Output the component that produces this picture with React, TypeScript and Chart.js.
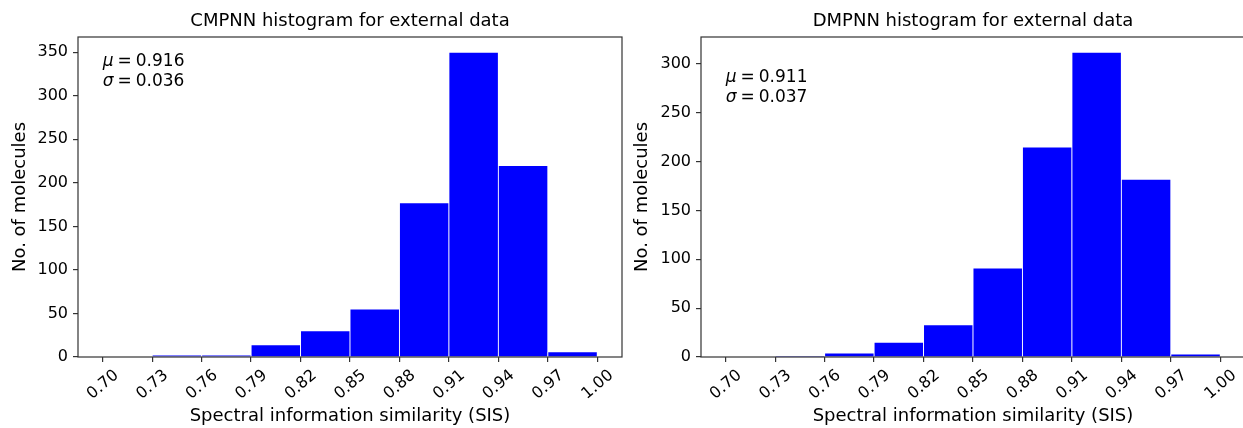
import React, { useEffect, useRef } from "react";
import { Chart, registerables } from "chart.js";

Chart.register(...registerables);

// ---- data ----
const binCenters = [0.715, 0.745, 0.775, 0.805, 0.835, 0.865, 0.895, 0.925, 0.955, 0.985];
const xTickValues = [0.7, 0.73, 0.76, 0.79, 0.82, 0.85, 0.88, 0.91, 0.94, 0.97, 1.0];
const cmpnnCounts = [0, 2, 2, 14, 30, 55, 177, 350, 220, 6];
const dmpnnCounts = [0, 1, 4, 15, 33, 91, 215, 312, 182, 3];
const statSymbols = ["μ", "σ"];
const cmpnnStats = ["0.916", "0.036"];
const dmpnnStats = ["0.911", "0.037"];
const cmpnnTitle = "CMPNN histogram for external data";
const dmpnnTitle = "DMPNN histogram for external data";
const xAxisTitle = "Spectral information similarity (SIS)";
const yAxisTitle = "No. of molecules";

const FONT = '"DejaVu Sans", "Noto Sans", sans-serif';

const framePlugin = {
  id: "frame",
  afterDatasetsDraw(chart: any) {
    const { ctx, chartArea: a } = chart;
    ctx.save();
    ctx.strokeStyle = "#333";
    ctx.lineWidth = 1.2;
    ctx.strokeRect(a.left, a.top, a.right - a.left, a.bottom - a.top);
    ctx.restore();
  },
};

const statsPlugin = {
  id: "stats",
  afterDraw(chart: any, _args: any, opts: any) {
    const { ctx } = chart;
    const xs = chart.scales.x;
    const ys = chart.scales.y;
    const x0 = xs.getPixelForValue(opts.x);
    const y0 = ys.getPixelForValue(opts.y);
    ctx.save();
    ctx.fillStyle = "#000";
    ctx.textAlign = "left";
    ctx.textBaseline = "middle";
    statSymbols.forEach((sym, i) => {
      const yy = y0 + i * opts.lineGap;
      ctx.font = `italic ${opts.size}px ${FONT}`;
      ctx.fillText(sym, x0, yy);
      let x = x0 + ctx.measureText(sym).width + opts.gap;
      ctx.font = `${opts.size}px ${FONT}`;
      ctx.fillText("=", x, yy);
      x += ctx.measureText("=").width + opts.gap;
      ctx.fillText(opts.values[i], x, yy);
    });
    ctx.restore();
  },
};

type HistProps = {
  left: number;
  width: number;
  counts: number[];
  title: string;
  stats: string[];
  statsY: number;
  yAxisWidth: number;
  yTitlePad: number;
  rightPad: number;
};

function Histogram(p: HistProps) {
  const ref = useRef<HTMLCanvasElement>(null);
  useEffect(() => {
    const yMax = Math.max(...p.counts) * 1.05;
    const chart = new Chart(ref.current as HTMLCanvasElement, {
      type: "bar",
      data: {
        datasets: [
          {
            data: binCenters.map((x, i) => ({ x, y: p.counts[i] })),
            backgroundColor: "#0000ff",
            borderColor: "#ffffff",
            borderWidth: 0.8,
            barPercentage: 1,
            categoryPercentage: 1,
          } as any,
        ],
      },
      options: {
        responsive: false,
        animation: false,
        layout: { padding: { left: 0, right: p.rightPad, top: 0, bottom: 0 } },
        plugins: {
          legend: { display: false },
          tooltip: { enabled: false },
          stats: { x: 0.7, y: p.statsY, lineGap: 20, gap: 4, size: 17, values: p.stats },
        } as any,
        scales: {
          x: {
            type: "linear",
            offset: false,
            min: 0.685,
            max: 1.015,
            afterBuildTicks: (s: any) => {
              s.ticks = xTickValues.map((v) => ({ value: v }));
            },
            afterFit: (s: any) => {
              s.height = 71;
            },
            ticks: {
              autoSkip: false,
              minRotation: 40,
              maxRotation: 40,
              labelOffset: 14,
              padding: 4,
              color: "#000",
              font: { family: FONT, size: 16 },
              callback: (v: any) => Number(v).toFixed(2),
            },
            grid: {
              display: true,
              offset: false,
              drawOnChartArea: false,
              drawTicks: true,
              tickLength: 5,
              color: "#333",
              lineWidth: 1.2,
            },
            border: { display: false },
            title: {
              display: true,
              text: xAxisTitle,
              color: "#000",
              font: { family: FONT, size: 18 },
              padding: { top: 0, bottom: 0.5 },
            },
          },
          x2: {
            type: "linear",
            position: "top",
            display: true,
            offset: false,
            ticks: { display: false },
            grid: { display: false },
            border: { display: false },
            afterFit: (s: any) => {
              s.height = 37;
            },
            title: {
              display: true,
              text: p.title,
              color: "#000",
              font: { family: FONT, size: 18 },
              padding: { top: 11, bottom: 0 },
            },
          },
          y: {
            type: "linear",
            min: 0,
            max: yMax,
            afterFit: (s: any) => {
              s.width = p.yAxisWidth;
            },
            ticks: {
              stepSize: 50,
              includeBounds: false,
              padding: 5,
              color: "#000",
              font: { family: FONT, size: 16 },
            },
            grid: {
              display: true,
              drawOnChartArea: false,
              drawTicks: true,
              tickLength: 5,
              color: "#333",
              lineWidth: 1.2,
            },
            border: { display: false },
            title: {
              display: true,
              text: yAxisTitle,
              color: "#000",
              font: { family: FONT, size: 18 },
              padding: { top: p.yTitlePad, bottom: 0 },
            },
          },
        } as any,
      },
      plugins: [framePlugin, statsPlugin],
    });
    return () => chart.destroy();
  }, []);
  return (
    <canvas
      ref={ref}
      width={p.width}
      height={428}
      style={{ position: "absolute", left: p.left, top: 0, width: p.width, height: 428 }}
    />
  );
}

export default function App() {
  return (
    <div
      style={{
        position: "absolute",
        left: 0,
        top: 0,
        width: 1243,
        height: 428,
        overflow: "hidden",
        background: "#ffffff",
      }}
    >
      <Histogram
        left={0}
        width={624}
        counts={cmpnnCounts}
        title={cmpnnTitle}
        stats={cmpnnStats}
        statsY={339}
        yAxisWidth={78}
        yTitlePad={9.6}
        rightPad={2}
      />
      <Histogram
        left={624}
        width={624}
        counts={dmpnnCounts}
        title={dmpnnTitle}
        stats={dmpnnStats}
        statsY={286}
        yAxisWidth={77}
        yTitlePad={7.2}
        rightPad={3}
      />
    </div>
  );
}
